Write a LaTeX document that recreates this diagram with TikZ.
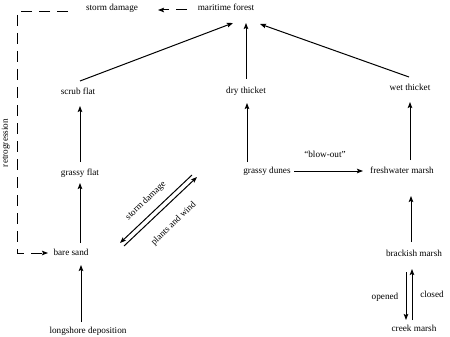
\documentclass[tikz,border=0pt]{standalone}
\usepackage{fontspec}
\setmainfont{Liberation Serif}
\usetikzlibrary{arrows.meta,calc}
\begin{document}
\begin{tikzpicture}[x=1pt,y=-1pt,
  lbl/.style={inner sep=0pt,text height=6pt,text depth=2pt,font=\fontsize{9.2}{10}\selectfont},
  arr/.style={line width=1pt,-{Stealth[length=6pt,width=4.5pt,inset=1pt]}},
  darr/.style={arr,dash pattern=on 11pt off 7pt}]
\useasboundingbox (0,0) rectangle (450,337);
% nodes
\node[lbl] (mf) at (226,9) {maritime forest};
\node[lbl] (sd) at (112,9) {storm damage};
\node[lbl] (sf) at (78,93) {scrub flat};
\node[lbl] (dt) at (246,92) {dry thicket};
\node[lbl] (wt) at (410,88) {wet thicket};
\node[lbl] (gf) at (80,173) {grassy flat};
\node[lbl] (gd) at (267,171) {grassy dunes};
\node[lbl] (fm) at (402,171) {freshwater marsh};
\node[lbl] (bs) at (71,253) {bare sand};
\node[lbl] (bm) at (414,254) {brackish marsh};
\node[lbl] (ld) at (88,331) {longshore deposition};
\node[lbl] (cm) at (414,329) {creek marsh};
% labels
\node[lbl] (lbo) at (325,155) {``blow-out''};
\node[lbl] (lop) at (385,297) {opened};
\node[lbl] (lcl) at (432,295) {closed};
\node[lbl,rotate=90] (lre) at (6,143) {retrogression};
\node[lbl,rotate=44] (lsd) at (146,201) {storm damage};
\node[lbl,rotate=44] (lpw) at (174,224) {plants and wind};
% coordinates for dashed corner
\coordinate (c1) at (17,12);
\coordinate (c2) at (17,253);
% arrows
\draw[arr] ($(sf)+(2,-12)$) -- ($(mf)+(7,14)$);
\draw[arr] ($(dt)+(0,-13)$) -- ($(mf)+(20,14)$);
\draw[arr] ($(wt)+(-1,-11)$) -- ($(mf)+(34,15)$);
\draw[arr] ($(gf)+(0,-11)$) -- ($(sf)+(2,13)$);
\draw[arr] ($(bs)+(9,-10)$) -- ($(gf)+(0,10)$);
\draw[arr] ($(ld)+(-7,-9)$) -- ($(bs)+(10,12)$);
\draw[arr] ($(gd)+(-20,-9)$) -- ($(dt)+(1,11)$);
\draw[arr] ($(gd)+(27,0)$) -- ($(fm)+(-39,0)$);
\draw[arr] ($(fm)+(8,-11)$) -- ($(wt)+(0,14)$);
\draw[arr] ($(bm)+(-3,-12)$) -- ($(fm)+(9,25)$);
\draw[arr] ($(bm)+(-8,18)$) -- ($(cm)+(-8,-9)$);
\draw[arr] ($(cm)+(-2,-9)$) -- ($(bm)+(-2,15)$);
\draw[arr] ($(gd)+(-75,4)$) -- ($(bs)+(49,-10)$);
\draw[arr] ($(bs)+(53,-7)$) -- ($(gd)+(-70,6)$);
% dashed
\draw[darr] ($(mf)+(-39,1)$) -- ($(sd)+(46,1)$);
\draw[darr] ($(sd)+(-44,3)$) -- (c1) -- (c2) -- ($(bs)+(-23,0)$);
\end{tikzpicture}
\end{document}
